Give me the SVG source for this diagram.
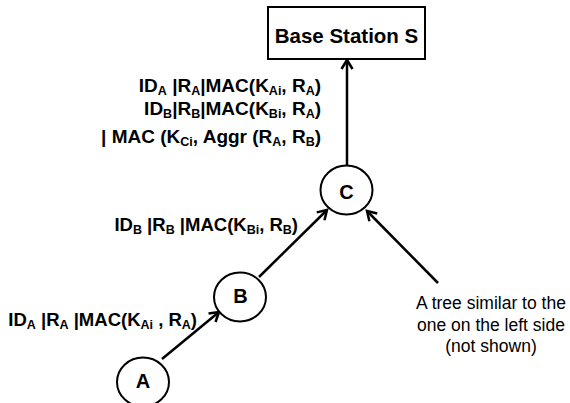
<svg xmlns="http://www.w3.org/2000/svg" width="570" height="403" viewBox="0 0 570 403">
<defs>
<style>
.node{fill:#fff;stroke:#000;stroke-width:2}
.nl{font-family:"Liberation Sans",Arial,sans-serif;font-weight:bold;font-size:20px;text-anchor:middle;fill:#000}
.lbl{font-family:"Liberation Sans",Arial,sans-serif;font-weight:bold;font-size:19px;fill:#000;text-anchor:end}
.lbl2{font-size:18.5px}
.sub{font-size:12.5px}
.note{font-family:"Liberation Sans",Arial,sans-serif;font-size:17.5px;text-anchor:middle;fill:#000}
.edge{stroke:#000;stroke-width:2.5;fill:none;marker-end:url(#arr)}
</style>
<marker id="arr" markerUnits="userSpaceOnUse" markerWidth="14" markerHeight="14" refX="11" refY="7" orient="auto" viewBox="0 0 14 14">
<path d="M2,1.5 L11,7 L2,12.5" fill="none" stroke="#000" stroke-width="2.5"/>
</marker>
</defs>
<rect width="570" height="403" fill="#fff"/>
<g id="connectors">
<line class="edge" x1="347" y1="166" x2="347" y2="60"/>
<line class="edge" x1="162" y1="359" x2="219" y2="312"/>
<line class="edge" x1="259" y1="277" x2="327" y2="210"/>
<line class="edge" x1="438" y1="283" x2="367" y2="211"/>
</g>
<g id="S">
<rect x="268" y="7" width="157" height="52" fill="#fff" stroke="#000" stroke-width="2"/>
<text class="nl" x="346.5" y="43" style="font-size:20.5px">Base Station S</text>
</g>
<g id="C">
<ellipse class="node" cx="346.5" cy="190" rx="26" ry="24.5"/>
<text class="nl" x="346.5" y="199">C</text>
</g>
<g id="B">
<ellipse class="node" cx="240" cy="297" rx="26" ry="24.5"/>
<text class="nl" x="240.5" y="303">B</text>
</g>
<g id="A">
<ellipse class="node" cx="143" cy="382" rx="26" ry="24.5"/>
<text class="nl" x="143" y="388">A</text>
</g>
<g id="labels">
<text class="lbl" x="321" y="91.5">ID<tspan class="sub" dy="3">A</tspan><tspan dy="-3"> |R</tspan><tspan class="sub" dy="3">A</tspan><tspan dy="-3">|MAC(K</tspan><tspan class="sub" dy="3">Ai</tspan><tspan dy="-3">, R</tspan><tspan class="sub" dy="3">A</tspan><tspan dy="-3">)</tspan></text>
<text class="lbl" x="321" y="115">ID<tspan class="sub" dy="3">B</tspan><tspan dy="-3">|R</tspan><tspan class="sub" dy="3">B</tspan><tspan dy="-3">|MAC(K</tspan><tspan class="sub" dy="3">Bi</tspan><tspan dy="-3">, R</tspan><tspan class="sub" dy="3">A</tspan><tspan dy="-3">)</tspan></text>
<text class="lbl" x="321" y="142.5">| MAC (K<tspan class="sub" dy="3">Ci</tspan><tspan dy="-3">, Aggr (R</tspan><tspan class="sub" dy="3">A</tspan><tspan dy="-3">, R</tspan><tspan class="sub" dy="3">B</tspan><tspan dy="-3">)</tspan></text>
<text class="lbl lbl2" x="298" y="231">ID<tspan class="sub" dy="3">B</tspan><tspan dy="-3"> |R</tspan><tspan class="sub" dy="3">B</tspan><tspan dy="-3"> |MAC(K</tspan><tspan class="sub" dy="3">Bi</tspan><tspan dy="-3">, R</tspan><tspan class="sub" dy="3">B</tspan><tspan dy="-3">)</tspan></text>
<text class="lbl lbl2" x="197" y="326">ID<tspan class="sub" dy="3">A</tspan><tspan dy="-3"> |R</tspan><tspan class="sub" dy="3">A</tspan><tspan dy="-3"> |MAC(K</tspan><tspan class="sub" dy="3">Ai</tspan><tspan dy="-3"> , R</tspan><tspan class="sub" dy="3">A</tspan><tspan dy="-3">)</tspan></text>
<text class="note" x="491" y="309">A tree similar to the</text>
<text class="note" x="491" y="330.5">one on the left side</text>
<text class="note" x="491" y="352">(not shown)</text>
</g>
</svg>
